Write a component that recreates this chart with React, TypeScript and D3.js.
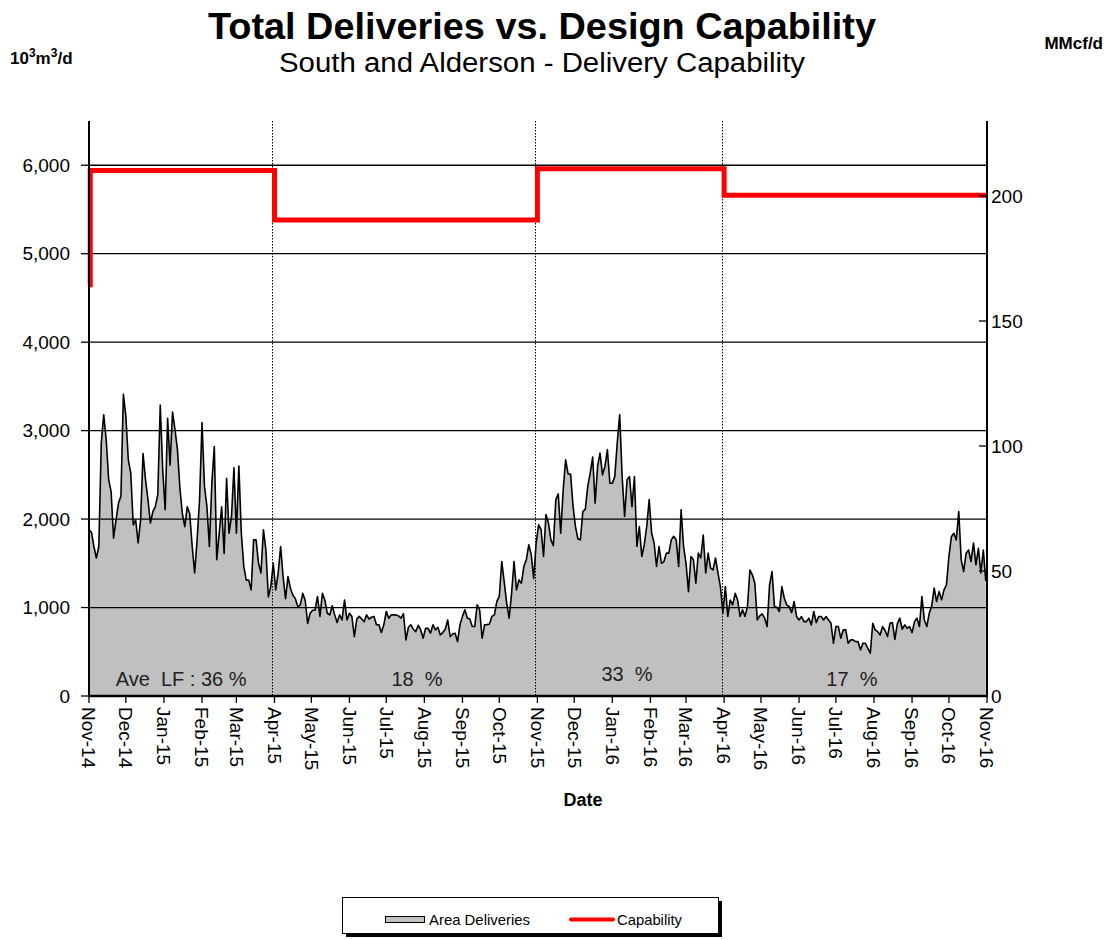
import { useEffect, useRef } from "react";
import * as d3 from "d3";

// daily deliveries sampled every 2 days from Nov 1 2014 (10^3 m3/d)
const startDate = "2014-11-01";
const stepDays = 2;
const deliveries = [
  1880, 1850, 1690, 1560, 1690, 2860, 3180, 2900, 2445, 2310,
  1785, 1990, 2180, 2260, 3410, 3160, 2670, 2520, 1935, 1990,
  1730, 1990, 2740, 2445, 2220, 1955, 2085, 2140, 2275, 3290,
  2560, 2105, 3140, 2610, 3210, 3010, 2785, 2350, 2060, 1915,
  2140, 2060, 1690, 1390, 1765, 2220, 3090, 2370, 2140, 1690,
  2400, 2820, 1540, 1840, 2140, 1610, 2460, 1840, 2030, 2580,
  1840, 2600, 1840, 1465, 1310, 1310, 1200, 1765, 1765, 1500,
  1390, 1880, 1650, 1120, 1240, 1500, 1200, 1390, 1690, 1350,
  1100, 1350, 1215, 1140, 1100, 1010, 1030, 1160, 1080, 820,
  935, 970, 970, 1125,
  900, 1160, 1085, 935, 917, 1020, 917, 830, 917, 860,
  1085, 860, 935, 900, 670, 870, 900, 870, 840, 917,
  870, 890, 900, 805, 805, 717, 805, 955, 880, 917,
  917, 917, 905, 880, 930, 634, 777, 805, 755, 728,
  800, 747, 653, 765, 765, 710, 805, 747, 777, 690,
  717, 755, 860, 670, 700, 710, 615, 805, 900, 975,
  880, 870, 785, 785, 1030, 975, 653, 805, 807, 815,
  900, 917, 1070, 1125, 1520, 1290, 1050, 880, 1160, 1520,
  1200, 1313, 1275, 1465, 1540, 1710, 1595, 1330, 1730, 1935,
  1880, 1577, 2050, 1955, 1765, 1700, 2220, 2285, 1840, 2330,
  2670, 2510, 2510, 2150, 1915, 1775, 1765, 2085, 2110, 2370,
  2520, 2700, 2180, 2595, 2745, 2500, 2595, 2785, 2405, 2405,
  2480, 2860, 3180, 2480, 2030, 2445, 2480, 2140, 2480, 1690,
  1915, 1577, 1710, 1915, 2220, 1840, 1730, 1465, 1690, 1500,
  1520, 1615, 1615, 1765, 1805, 1765, 1465, 2105, 1690, 1500,
  1180, 1577, 1540, 1275, 1615, 1560, 1820, 1390, 1615, 1445,
  1425, 1560, 1390, 1237, 935, 1237, 900, 1085, 1030, 1160,
  1085, 900, 975, 900, 1010, 1425, 1370, 1275, 860,
  905, 928, 880, 785, 1256, 1407, 1010, 1003, 955, 1237,
  1105, 1030, 1010, 943, 1068, 898, 860, 898, 841, 841,
  880, 804, 955, 830, 898, 898, 860, 898, 860, 822,
  596, 785, 785, 653, 747, 747, 596, 634, 634, 615,
  615, 520, 596, 596, 540, 483, 822, 747, 728, 690,
  785, 740, 672, 822, 830, 640, 815, 880, 755, 804,
  766, 785, 717, 841, 880, 785, 1124, 860, 785, 936,
  1020, 1220, 1068, 1180, 1087, 1200, 1256, 1577, 1800, 1840,
  1765, 2085, 1540, 1407, 1615, 1650, 1520, 1730, 1483, 1670,
  1390, 1650, 1300,
];

// design capability steps
const capDates = ["2014-11-01", "2014-11-02", "2015-04-01", "2015-11-01", "2016-04-01", "2016-11-01"];
const capValues = [4650, 5940, 5380, 5960, 5660, 5660];

// period boundaries and load factor labels
const periodLines = ["2015-04-01", "2015-11-01", "2016-04-01"];
const lfLabels = ["Ave  LF : 36 %", "18  %", "33  %", "17  %"];
const lfDates = ["2015-01-15", "2015-07-26", "2016-01-13", "2016-07-14"];
const lfValues = [110, 110, 165, 110];

const leftTicks = [0, 1000, 2000, 3000, 4000, 5000, 6000];
const rightTicks = [0, 50, 100, 150, 200];

const FONT = "'Liberation Sans', Arial, sans-serif";

export default function App() {
  const svgRef = useRef<SVGSVGElement | null>(null);

  useEffect(() => {
    if (!svgRef.current) return;
    const svg = d3.select(svgRef.current);
    svg.selectAll("*").remove();

    const width = 1113;
    const height = 940;
    const m = { left: 89, right: 987, top: 121, bottom: 696 };
    const parse = d3.utcParse("%Y-%m-%d");
    const t0 = parse(startDate)!;

    const x = d3
      .scaleUtc()
      .domain([t0, parse("2016-11-01")!])
      .range([m.left, m.right]);
    const y = d3.scaleLinear().domain([0, 6500]).range([m.bottom, m.top]);
    const y2 = d3.scaleLinear().domain([0, 230]).range([m.bottom, m.top]);

    const pts = deliveries.map((v, i) => ({ d: d3.utcDay.offset(t0, i * stepDays), v }));

    svg.attr("width", width).attr("height", height).style("font-family", FONT);
    svg.append("rect").attr("width", width).attr("height", height).attr("fill", "#fff");

    // area
    const area = d3
      .area<{ d: Date; v: number }>()
      .x((p) => x(p.d))
      .y0(y(0))
      .y1((p) => y(p.v));
    svg.append("path").datum(pts).attr("d", area).attr("fill", "#c0c0c0");

    // gridlines
    svg
      .append("g")
      .selectAll("line")
      .data(leftTicks.filter((t) => t > 0))
      .join("line")
      .attr("x1", m.left)
      .attr("x2", m.right)
      .attr("y1", (t) => y(t))
      .attr("y2", (t) => y(t))
      .attr("stroke", "#000")
      .attr("stroke-width", 1.3);

    // period dotted lines
    svg
      .append("g")
      .selectAll("line")
      .data(periodLines)
      .join("line")
      .attr("x1", (s) => Math.round(x(parse(s)!)) - 1.5)
      .attr("x2", (s) => Math.round(x(parse(s)!)) - 1.5)
      .attr("y1", m.top)
      .attr("y2", m.bottom)
      .attr("stroke", "#000")
      .attr("stroke-width", 1)
      .attr("stroke-dasharray", "1.5,1.5");

    // delivery line
    const line = d3
      .line<{ d: Date; v: number }>()
      .x((p) => x(p.d))
      .y((p) => y(p.v));
    svg
      .append("path")
      .datum(pts)
      .attr("d", line)
      .attr("fill", "none")
      .attr("stroke", "#000")
      .attr("stroke-width", 1.6)
      .attr("stroke-linejoin", "round");

    // capability
    const cap = capDates.map((s, i) => ({ d: parse(s)!, v: capValues[i] }));
    const capLine = d3
      .line<{ d: Date; v: number }>()
      .x((p) => x(p.d))
      .y((p) => y(p.v))
      .curve(d3.curveStepAfter);
    svg
      .append("path")
      .datum(cap)
      .attr("d", capLine)
      .attr("fill", "none")
      .attr("stroke", "#ff0000")
      .attr("stroke-width", 5);

    // load factor labels
    svg
      .append("g")
      .selectAll("text")
      .data(lfLabels)
      .join("text")
      .attr("x", (_, i) => x(parse(lfDates[i])!))
      .attr("y", (_, i) => y(lfValues[i]))
      .attr("text-anchor", "middle")
      .attr("font-size", 20)
      .attr("fill", "#222")
      .style("white-space", "pre")
      .text((t) => t);

    // axes lines
    svg.append("line").attr("x1", m.left).attr("x2", m.left).attr("y1", m.top).attr("y2", m.bottom + 1)
      .attr("stroke", "#000").attr("stroke-width", 2);
    svg.append("line").attr("x1", m.right).attr("x2", m.right).attr("y1", m.top).attr("y2", m.bottom + 1)
      .attr("stroke", "#000").attr("stroke-width", 2);
    svg.append("line").attr("x1", m.left).attr("x2", m.right + 1).attr("y1", m.bottom).attr("y2", m.bottom)
      .attr("stroke", "#000").attr("stroke-width", 2.5);

    // left axis
    const gl = svg.append("g");
    gl.selectAll("line")
      .data(leftTicks)
      .join("line")
      .attr("x1", m.left - 8)
      .attr("x2", m.left)
      .attr("y1", (t) => y(t))
      .attr("y2", (t) => y(t))
      .attr("stroke", "#000")
      .attr("stroke-width", 1.3);
    gl.selectAll("text")
      .data(leftTicks)
      .join("text")
      .attr("x", m.left - 19)
      .attr("y", (t) => y(t))
      .attr("dy", "0.35em")
      .attr("text-anchor", "end")
      .attr("font-size", 19)
      .text((t) => d3.format(",")(t));

    // right axis
    const gr = svg.append("g");
    gr.selectAll("line")
      .data(rightTicks)
      .join("line")
      .attr("x1", m.right - 8)
      .attr("x2", m.right + 1)
      .attr("y1", (t) => y2(t))
      .attr("y2", (t) => y2(t))
      .attr("stroke", "#000")
      .attr("stroke-width", 1.3);
    gr.selectAll("text")
      .data(rightTicks)
      .join("text")
      .attr("x", m.right + 4)
      .attr("y", (t) => y2(t))
      .attr("dy", "0.35em")
      .attr("text-anchor", "start")
      .attr("font-size", 19)
      .text((t) => String(t));

    // x axis months
    const months = d3.utcMonth.range(t0, d3.utcDay.offset(parse("2016-11-01")!, 1));
    const gx = svg.append("g");
    gx.selectAll("line")
      .data(months)
      .join("line")
      .attr("x1", (d) => x(d))
      .attr("x2", (d) => x(d))
      .attr("y1", m.bottom)
      .attr("y2", m.bottom + 7)
      .attr("stroke", "#000")
      .attr("stroke-width", 1.3);
    gx.selectAll("text")
      .data(months)
      .join("text")
      .attr("transform", (d) => `translate(${x(d)},${m.bottom + 11}) rotate(90)`)
      .attr("dy", "0.35em")
      .attr("text-anchor", "start")
      .attr("font-size", 19)
      .text((d) => d3.utcFormat("%b-%y")(d));

    svg.append("text").attr("x", 583).attr("y", 806).attr("text-anchor", "middle")
      .attr("font-size", 18).attr("font-weight", "bold").text("Date");

    // titles
    svg.append("text").attr("x", 542).attr("y", 39).attr("text-anchor", "middle")
      .attr("font-size", 37).attr("font-weight", "bold")
      .attr("textLength", 668).attr("lengthAdjust", "spacingAndGlyphs")
      .text("Total Deliveries vs. Design Capability");
    svg.append("text").attr("x", 542).attr("y", 72).attr("text-anchor", "middle")
      .attr("font-size", 27)
      .attr("textLength", 526).attr("lengthAdjust", "spacingAndGlyphs")
      .text("South and Alderson - Delivery Capability");

    const unitL = svg.append("text").attr("x", 10).attr("y", 64).attr("font-size", 17).attr("font-weight", "bold");
    unitL.append("tspan").text("10");
    unitL.append("tspan").attr("dy", -7).attr("font-size", 12).text("3");
    unitL.append("tspan").attr("dy", 7).text("m");
    unitL.append("tspan").attr("dy", -7).attr("font-size", 12).text("3");
    unitL.append("tspan").attr("dy", 7).text("/d");
    svg.append("text").attr("x", 1103).attr("y", 49).attr("text-anchor", "end")
      .attr("font-size", 17).attr("font-weight", "bold").text("MMcf/d");

    // legend
    const lg = svg.append("g");
    lg.append("rect").attr("x", 346).attr("y", 901).attr("width", 376).attr("height", 36).attr("fill", "#000");
    lg.append("rect").attr("x", 342.5).attr("y", 897.5).attr("width", 376).attr("height", 36)
      .attr("fill", "#fff").attr("stroke", "#000").attr("stroke-width", 1);
    lg.append("rect").attr("x", 385.5).attr("y", 916.5).attr("width", 39).attr("height", 6)
      .attr("fill", "#c0c0c0").attr("stroke", "#000").attr("stroke-width", 1);
    lg.append("text").attr("x", 429).attr("y", 925).attr("font-size", 14.5)
      .attr("textLength", 101).attr("lengthAdjust", "spacingAndGlyphs").text("Area Deliveries");
    lg.append("line").attr("x1", 571).attr("x2", 613).attr("y1", 919.5).attr("y2", 919.5)
      .attr("stroke", "#ff0000").attr("stroke-width", 4).attr("stroke-linecap", "round");
    lg.append("text").attr("x", 617).attr("y", 925).attr("font-size", 14.5)
      .attr("textLength", 65).attr("lengthAdjust", "spacingAndGlyphs").text("Capability");
  }, []);

  return (
    <svg
      ref={svgRef}
      width={1113}
      height={940}
      style={{ position: "absolute", left: 0, top: 0, display: "block" }}
    />
  );
}
